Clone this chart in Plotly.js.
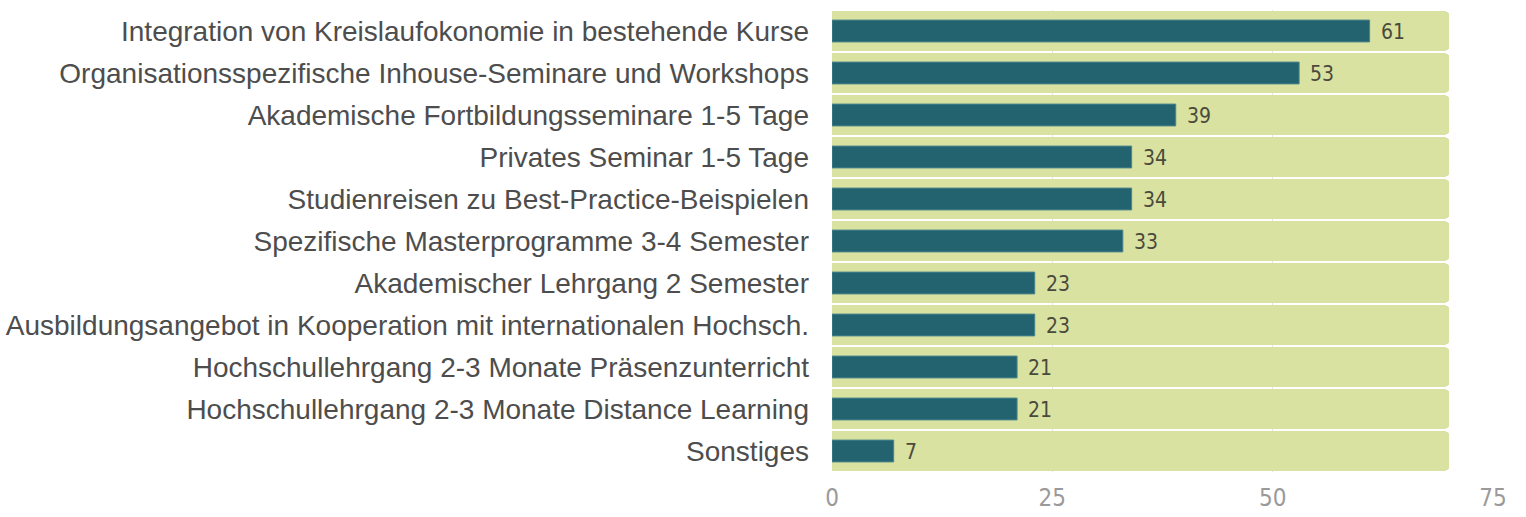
<!DOCTYPE html>
<html>
<head>
<meta charset="utf-8">
<script src="https://cdn.plot.ly/plotly-3.0.1.min.js"></script>
<style>html,body{margin:0;padding:0;background:#fff;}#chart{width:1526px;height:517px;}</style>
</head>
<body>
<div id="chart"></div>
<script>
const categories = [
  "Integration von Kreislaufokonomie in bestehende Kurse",
  "Organisationsspezifische Inhouse-Seminare und Workshops",
  "Akademische Fortbildungsseminare 1-5 Tage",
  "Privates Seminar 1-5 Tage",
  "Studienreisen zu Best-Practice-Beispielen",
  "Spezifische Masterprogramme 3-4 Semester",
  "Akademischer Lehrgang 2 Semester",
  "Ausbildungsangebot in Kooperation mit internationalen Hochsch.",
  "Hochschullehrgang 2-3 Monate Präsenzunterricht",
  "Hochschullehrgang 2-3 Monate Distance Learning",
  "Sonstiges"
];
const values = [61, 53, 39, 34, 34, 33, 23, 23, 21, 21, 7];
const backgroundValue = 70;
const tickValues = [0, 25, 50, 75];

const bgTrace = {
  type: 'bar', orientation: 'h',
  y: categories, x: categories.map(() => backgroundValue),
  width: 0.93,
  marker: {color: '#d9e2a1', cornerradius: 3},
  hoverinfo: 'skip', showlegend: false
};
const barTrace = {
  type: 'bar', orientation: 'h',
  y: categories, x: values,
  width: 0.52,
  marker: {color: '#236370', line: {color: '#4a858c', width: 1}},
  showlegend: false
};
const annotations = values.map((v, i) => ({
  x: v, y: categories[i], xref: 'x', yref: 'y',
  text: String(v), showarrow: false, xanchor: 'left', xshift: 9, yshift: -1,
  font: {family: 'DejaVu Sans Condensed, sans-serif', size: 21, color: '#4a4a3c'}
}));

const layout = {
  width: 1526, height: 517,
  margin: {l: 832, r: 33, t: 10, b: 45},
  paper_bgcolor: '#ffffff', plot_bgcolor: '#ffffff',
  barmode: 'overlay',
  bargap: 0,
  xaxis: {
    range: [0, 75], tickvals: tickValues, ticktext: tickValues.map(String),
    showgrid: true, gridcolor: '#e4e4e4', gridwidth: 1, zeroline: false,
    showline: false, ticks: '', ticklabelstandoff: 9,
    tickfont: {family: 'DejaVu Sans Condensed, sans-serif', size: 24, color: '#9a9a9a'}
  },
  yaxis: {
    autorange: 'reversed', showgrid: false, zeroline: false, showline: false,
    ticks: '', ticklabelstandoff: 22,
    tickfont: {family: 'Liberation Sans, Arial, sans-serif', size: 28, color: '#4d4d4d'}
  },
  annotations: annotations
};

Plotly.newPlot('chart', [bgTrace, barTrace], layout, {displayModeBar: false, staticPlot: true});
</script>
</body>
</html>
